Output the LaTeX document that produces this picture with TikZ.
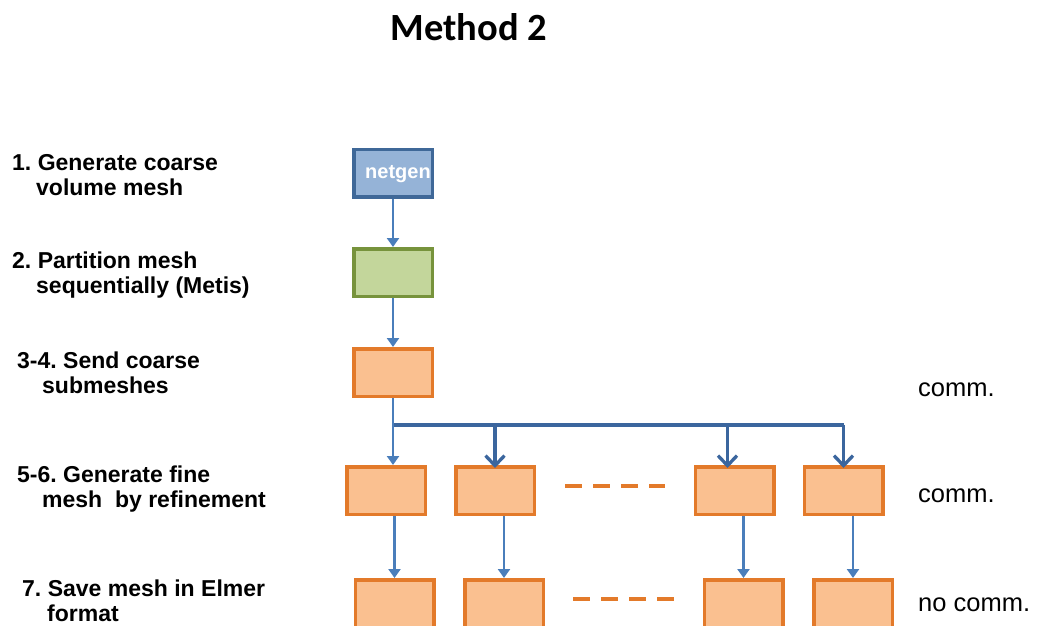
\documentclass[tikz,border=0pt]{standalone}
\usepackage{fontspec}
\setmainfont{Liberation Sans}
\newfontfamily\titlefont{Carlito}
\usetikzlibrary{arrows.meta,calc}

\definecolor{netfill}{HTML}{95B3D7}
\definecolor{netdraw}{HTML}{3F6898}
\definecolor{partfill}{HTML}{C3D69B}
\definecolor{partdraw}{HTML}{77933C}
\definecolor{subfill}{HTML}{FAC090}
\definecolor{subdraw}{HTML}{E37A2A}
\definecolor{thinblue}{HTML}{4A7EBB}
\definecolor{busblue}{HTML}{3B669E}

\begin{document}
\frenchspacing
\begin{tikzpicture}[x=1pt,y=-1pt,
  box/.style={rectangle, line width=3.5pt, minimum width=78.5pt, minimum height=47.5pt, inner sep=0pt},
  netbox/.style={box, draw=netdraw, fill=netfill},
  partbox/.style={box, draw=partdraw, fill=partfill},
  subbox/.style={box, draw=subdraw, fill=subfill},
  steplabel/.style={anchor=base west, inner sep=0pt, font=\fontsize{23}{27}\selectfont\bfseries},
  commlabel/.style={anchor=base west, inner sep=0pt, font=\fontsize{25.5}{29}\selectfont},
  thinarr/.style={draw=thinblue, line width=2.6pt, -{Triangle[length=9pt,width=12pt]}},
  bus/.style={draw=busblue, line width=3.3pt},
  busarr/.style={bus, -{Straight Barb[length=10pt,width=19pt]}},
  dots/.style={draw=subdraw, line width=4pt, dash pattern=on 17pt off 11pt}
]
\clip (0,0) rectangle (1037,626);
\fill[white] (0,0) rectangle (1037,626);

% title
\node[font=\titlefont\bfseries\fontsize{38.5}{42}\selectfont, anchor=base, inner sep=0pt] (title) at (469,41) {Method 2};

% step descriptions
\node[steplabel] (s1a) at (12,170) {1. Generate coarse};
\node[steplabel] (s1b) at (36,195) {volume mesh};
\node[steplabel] (s2a) at (12,268) {2. Partition mesh};
\node[steplabel] (s2b) at (36,293) {sequentially (Metis)};
\node[steplabel] (s3a) at (17,368) {3-4. Send coarse};
\node[steplabel] (s3b) at (42,393) {submeshes};
\node[steplabel] (s4a) at (17,482) {5-6. Generate fine};
\node[steplabel] (s4b) at (42,507) {mesh\ \ by refinement};
\node[steplabel] (s5a) at (22,596) {7. Save mesh in Elmer};
\node[steplabel] (s5b) at (47,621) {format};

% communication notes
\node[commlabel] (c1) at (918,396) {comm.};
\node[commlabel] (c2) at (918,502) {comm.};
\node[commlabel] (c3) at (918,611) {no comm.};

% sequential part
\node[netbox] (n1) at (393,173) {};
\node[font=\fontsize{20}{24}\selectfont\bfseries, text=white, inner sep=0pt] (n1t) at (398,174) {netgen};
\node[partbox] (n2) at (393,272.5) {};
\node[subbox] (n3) at (393,372.5) {};

% fine meshes
\node[subbox] (r2a) at (386,490.5) {};
\node[subbox] (r2b) at (495,490.5) {};
\node[subbox] (r2c) at (734.5,490.5) {};
\node[subbox] (r2d) at (843.5,490.5) {};

% saved meshes
\node[subbox] (r3a) at (394.5,603.5) {};
\node[subbox] (r3b) at (504,603.5) {};
\node[subbox] (r3c) at (743.5,603.5) {};
\node[subbox] (r3d) at (853,603.5) {};

\draw[dots] (565,486) -- (665,486);
\draw[dots] (573,599) -- (675,599);

% connectors
\draw[thinarr] (n1.south) -- (n2.north);
\draw[thinarr] (n2.south) -- (n3.north);

\coordinate (busL) at (392,425);
\draw[bus] (busL) -- (busL -| r2d.north);
\draw[thinarr] (n3.south) -- (n3.south |- r2a.north);
\draw[busarr] (busL -| r2b.north) -- ([yshift=-3pt]r2b.north);
\draw[busarr] ([xshift=-7pt]busL -| r2c.north) -- ([xshift=-7pt,yshift=-3pt]r2c.north);
\draw[busarr] (busL -| r2d.north) -- ([yshift=-3pt]r2d.north);

\draw[thinarr] (r3a.north |- r2a.south) -- (r3a.north);
\draw[thinarr] (r3b.north |- r2b.south) -- (r3b.north);
\draw[thinarr] (r3c.north |- r2c.south) -- (r3c.north);
\draw[thinarr] (r3d.north |- r2d.south) -- (r3d.north);
\end{tikzpicture}
\end{document}
